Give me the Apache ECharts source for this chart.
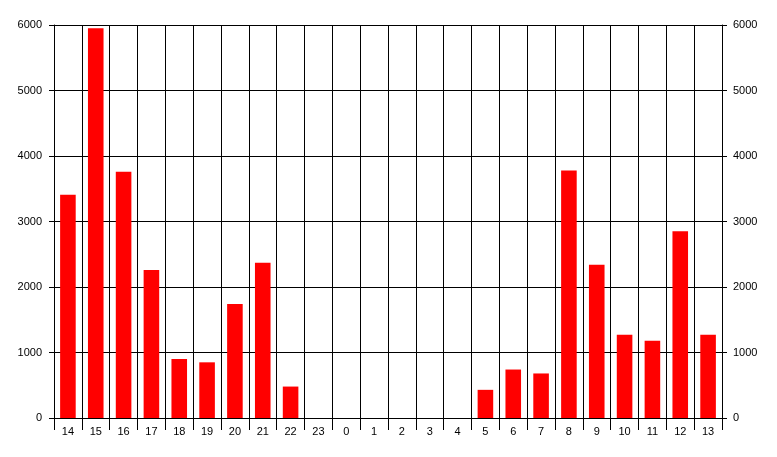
<!DOCTYPE html>
<html>
<head>
<meta charset="utf-8">
<script src="https://cdn.jsdelivr.net/npm/echarts@6/dist/echarts.min.js"></script>
<style>
  html, body { margin: 0; padding: 0; background: #ffffff; }
  #chart { width: 777px; height: 457px; }
</style>
</head>
<body>
<div id="chart"></div>
<script>
// hours of the day, starting at 14
const hours = ['14', '15', '16', '17', '18', '19', '20', '21', '22', '23', '0', '1',
  '2', '3', '4', '5', '6', '7', '8', '9', '10', '11', '12', '13']
const counts = [3410, 5950, 3760, 2260, 900, 850, 1740, 2370, 480, 0, 0, 0,
  0, 0, 0, 430, 740, 680, 3780, 2340, 1270, 1180, 2850, 1270]
const yTicks = [0, 1000, 2000, 3000, 4000, 5000, 6000]

const chart = echarts.init(document.getElementById('chart'))

const labelStyle = {
  color: '#000000',
  fontFamily: 'Arial, "Liberation Sans", sans-serif',
  fontSize: 11
}

const valueAxis = (position, margin) => ({
  type: 'value',
  position: position,
  min: yTicks[0],
  max: yTicks[yTicks.length - 1],
  interval: yTicks[1] - yTicks[0],
  axisLine: { show: true, lineStyle: { color: '#000000', width: 1 } },
  axisTick: { show: true, length: 5, lineStyle: { color: '#000000' } },
  axisLabel: { ...labelStyle, margin: margin, formatter: v => String(v) },
  splitLine: { show: position === 'left', lineStyle: { color: '#000000', width: 1 } }
})

chart.setOption({
  animation: false,
  backgroundColor: '#ffffff',
  grid: {
    left: 54,
    right: 55,
    top: 25,
    bottom: 39,
    containLabel: false
  },
  xAxis: {
    type: 'category',
    data: hours,
    boundaryGap: true,
    axisLine: { show: true, lineStyle: { color: '#000000', width: 1 } },
    axisTick: { show: true, length: 12, interval: 0, lineStyle: { color: '#000000' } },
    axisLabel: { ...labelStyle, interval: 0, margin: 8 },
    splitLine: { show: true, interval: 0, lineStyle: { color: '#000000', width: 1 } }
  },
  yAxis: [valueAxis('left', 12), valueAxis('right', 11)],
  series: [
    {
      type: 'bar',
      data: counts,
      barWidth: '56%',
      itemStyle: { color: '#ff0000' }
    }
  ]
})
</script>
</body>
</html>
